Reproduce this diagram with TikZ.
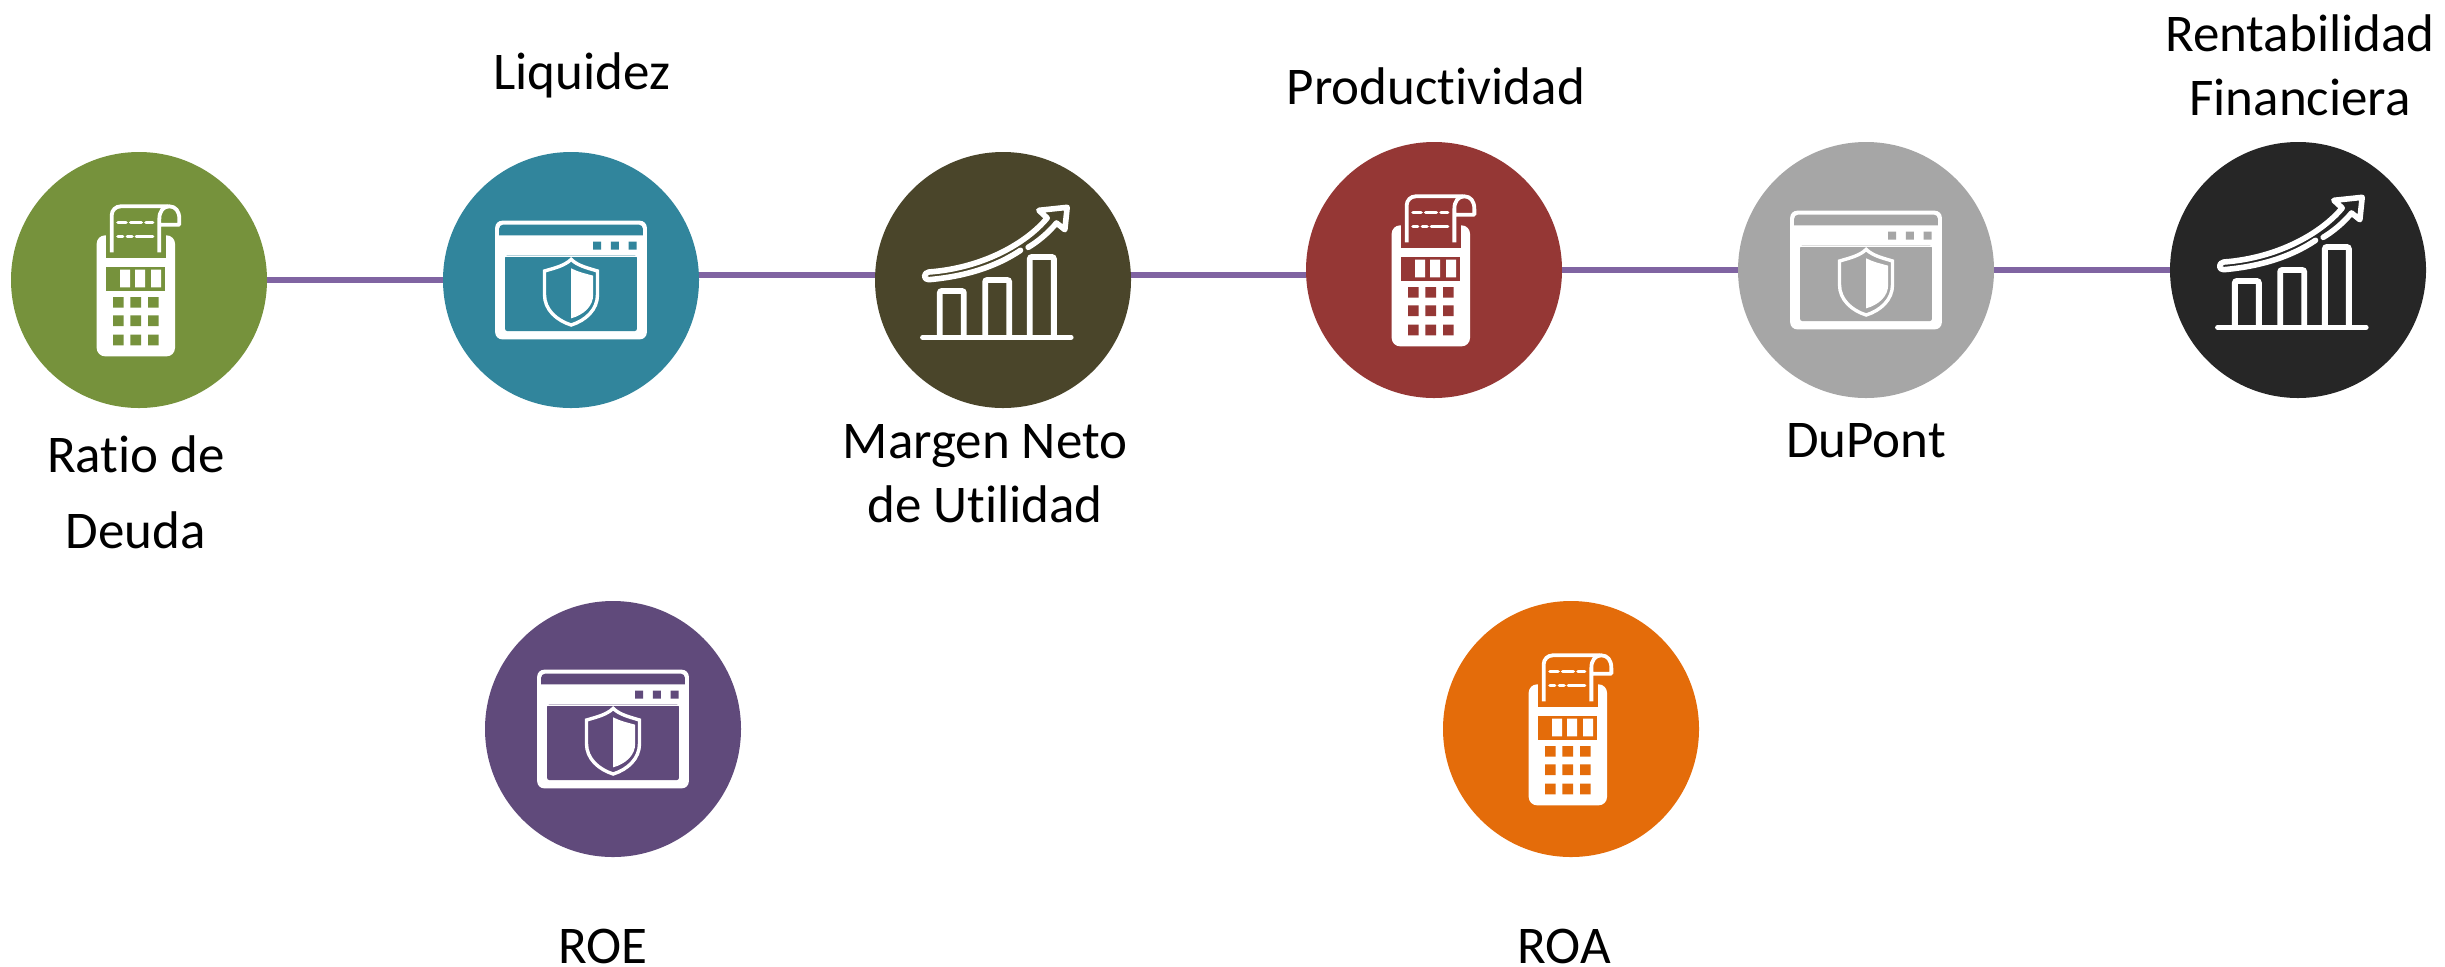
\documentclass[tikz,border=0pt]{standalone}
\usepackage{fontspec}
\setmainfont[Ligatures=NoCommon]{Carlito}
\definecolor{cgreen}{HTML}{76923C}
\definecolor{cteal}{HTML}{31859C}
\definecolor{cbrown}{HTML}{4A452A}
\definecolor{cred}{HTML}{953735}
\definecolor{cgrey}{HTML}{A6A6A6}
\definecolor{cblack}{HTML}{262626}
\definecolor{cpurple}{HTML}{604A7B}
\definecolor{corange}{HTML}{E46C0A}
\definecolor{cline}{HTML}{8064A2}
\tikzset{
  disc/.style={circle,minimum size=128pt,inner sep=0pt,outer sep=0pt,draw=none},
  conn/.style={draw=cline,line width=3pt},
  lab/.style={font=\fontsize{26.5}{32}\selectfont,text=black,inner sep=0pt},
  lablines/.style={lab,align=center},
  icon/.style={x=0.16667pt,y=-0.16667pt},
  pics/calcicon/.style={code={
    \begin{scope}[icon,shift={(-417,-421)}]
      \fill[white,rounded corners=4.2pt] (290,287) rectangle (525,650);
      \fill[#1] (318,270) rectangle (497,355);
      \draw[white,line width=1.9pt,rounded corners=4.5pt] (335,338) -- (335,200) -- (505,200);
      \draw[white,line width=1.9pt,line join=round] (478,338) -- (478,238) .. controls (478,214) and (490,200) .. (508,200) .. controls (526,200) and (538,214) .. (538,238) -- (538,255) -- (482,255);
      \draw[white,line width=1.8pt,line cap=round] (354,248) -- (378,248) (392,248) -- (424,248) (438,248) -- (458,248) (354,291) -- (368,291) (382,291) -- (396,291) (409,291) -- (458,291);
      \fill[#1] (317,381) rectangle (495,453);
      \fill[white] (360,390) rectangle (390,443) (405,390) rectangle (435,443) (453,390) rectangle (483,443);
      \fill[#1] (339,472) rectangle (371,504) (391,472) rectangle (423,504) (444,472) rectangle (476,504)
                (339,527) rectangle (371,559) (391,527) rectangle (423,559) (444,527) rectangle (476,559)
                (339,585) rectangle (371,617) (391,585) rectangle (423,617) (444,585) rectangle (476,617);
    \end{scope}
  }},
  pics/winicon/.style={code={
    \begin{scope}[icon,shift={(-423.5,-421)}]
      \fill[white,rounded corners=3.5pt] (196,243) rectangle (651,599);
      \fill[#1,rounded corners=2pt] (208,287) -- (208,255) -- (639,255) -- (639,287);
      \fill[#1,rounded corners=1pt] (226,348) rectangle (621,574);
      \fill[white] (226,348) rectangle (621,350);
      \fill[#1] (490,306) rectangle (514,330) (543,306) rectangle (567,330) (596,306) rectangle (620,330);
      \draw[white,line width=1.7pt,line join=miter]
        (424,359) .. controls (405,378) and (375,385) .. (344,394) -- (344,465)
        .. controls (344,510) and (380,542) .. (424,556)
        .. controls (468,542) and (503,510) .. (503,465) -- (503,394)
        .. controls (473,385) and (443,378) .. (424,359) -- cycle;
      \fill[white] (424,386) .. controls (445,397) and (468,402) .. (490,408) -- (490,465)
        .. controls (490,500) and (462,525) .. (424,536) -- cycle;
    \end{scope}
  }},
  pics/charticon/.style={code={
    \begin{scope}[icon,shift={(-429.5,-421)}]
      \draw[white,line width=2.4pt,line cap=round] (188,593) -- (634,593);
      \draw[white,line width=2.9pt,rounded corners=1pt] (240,593) -- (240,454) -- (312,454) -- (312,593);
      \draw[white,line width=2.9pt,rounded corners=1pt] (376,593) -- (376,421) -- (448,421) -- (448,593);
      \draw[white,line width=2.9pt,rounded corners=1pt] (510,593) -- (510,352) -- (582,352) -- (582,593);
      \draw[white,line width=2.8pt,line join=round,line cap=round]
        (505,323) .. controls (535,305) and (565,280) .. (590,250) -- (615,270) -- (622,203) -- (537,212) -- (562,235)
        .. controls (500,310) and (370,385) .. (207,397)
        .. controls (190,399) and (190,421) .. (207,420)
        .. controls (320,410) and (410,380) .. (482,332);
    \end{scope}
  }},
}
\begin{document}
\begin{tikzpicture}[x=0.5pt,y=-0.5pt]
  \useasboundingbox (0,0) rectangle (2445,966);
  \node[disc,fill=cgreen] (n1) at (139,280) {};
  \node[disc,fill=cteal] (n2) at (571,280) {};
  \node[disc,fill=cbrown] (n3) at (1003,280) {};
  \node[disc,fill=cred] (n4) at (1434,270) {};
  \node[disc,fill=cgrey] (n5) at (1866,270) {};
  \node[disc,fill=cblack] (n6) at (2298,270) {};
  \node[disc,fill=cpurple] (n7) at (613,729) {};
  \node[disc,fill=corange] (n8) at (1571,729) {};
  \draw[conn] (n1) -- (n2);
  \draw[conn] ([yshift=2.5pt]n2.east) -- ([yshift=2.5pt]n3.west);
  \draw[conn] ([yshift=2.5pt]n3.east) -- ([yshift=-2.5pt]n4.west);
  \draw[conn] (n4) -- (n5);
  \draw[conn] (n5) -- (n6);
  \pic at (n1) {calcicon=cgreen};
  \pic at (n2) {winicon=cteal};
  \pic at (n3) {charticon=cbrown};
  \pic at (n4) {calcicon=cred};
  \pic at (n5) {winicon=cgrey};
  \pic at (n6) {charticon=cblack};
  \pic at (n7) {winicon=cpurple};
  \pic at (n8) {calcicon=corange};
  \node[lablines,anchor=base] (t1) at (136,548) {Ratio de\\[6pt]Deuda};
  \node[lab,anchor=base] (t2) at (582,89) {Liquidez};
  \node[lablines,anchor=base] (t3) at (985,522) {Margen Neto\\de Utilidad};
  \node[lab,anchor=base] (t4) at (1436,104) {Productividad};
  \node[lab,anchor=base] (t5) at (1866,457) {DuPont};
  \node[lablines,anchor=base] (t6) at (2300,115) {Rentabilidad\\Financiera};
  \node[lab,anchor=base] (t7) at (603,963) {ROE};
  \node[lab,anchor=base] (t8) at (1564,963) {ROA};
\end{tikzpicture}
\end{document}
